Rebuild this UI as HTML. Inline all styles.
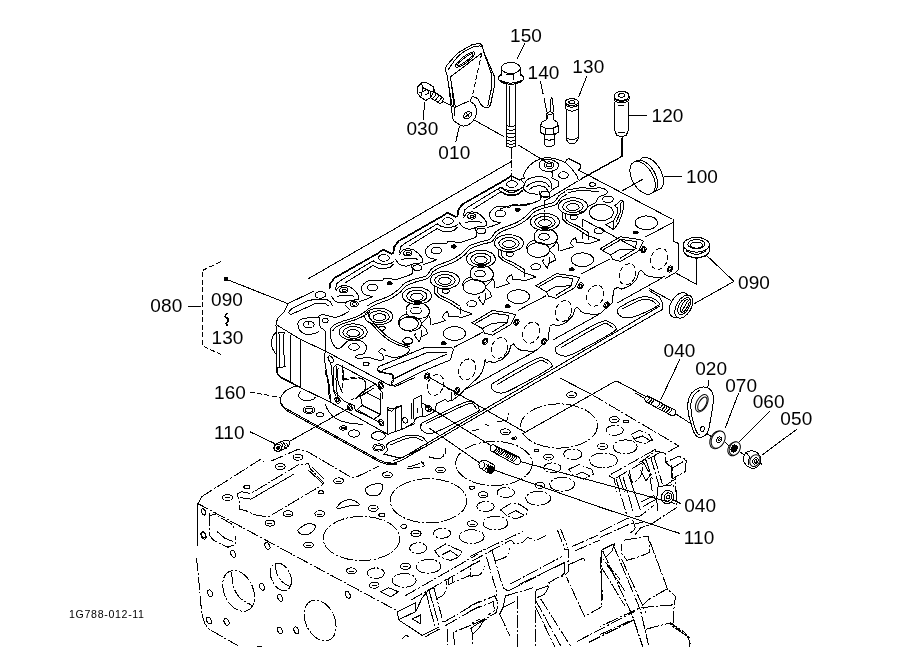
<!DOCTYPE html>
<html><head><meta charset="utf-8"><title>Cylinder head</title>
<style>
html,body{margin:0;padding:0;background:#fff}
svg{display:block;filter:grayscale(1)}
path,ellipse,circle{fill:none;stroke:#000;stroke-width:1;stroke-linecap:butt;stroke-linejoin:round;shape-rendering:crispEdges}
.t{stroke-width:1}
.ph{stroke-width:1;stroke-dasharray:13 2 2 2}
.da{stroke-width:1;stroke-dasharray:5 2.5}
.cl{stroke-width:1;stroke-dasharray:7 2 1.5 2}
.b{stroke-width:1.7}
.w{fill:#fff}
.k{fill:#000}
text{font-family:"Liberation Sans",sans-serif;fill:#000}
.lb{font-size:19px;letter-spacing:.1px}
.sm{font-size:10.6px;letter-spacing:.68px}
</style></head><body>
<svg width="919" height="667" viewBox="0 0 919 667">
<text x="510" y="42" class="lb">150</text>
<text x="527.5" y="78.5" class="lb">140</text>
<text x="572.3" y="73" class="lb">130</text>
<text x="651.5" y="122" class="lb">120</text>
<text x="686" y="182.8" class="lb">100</text>
<text x="406.4" y="135" class="lb">030</text>
<text x="438.3" y="158.5" class="lb">010</text>
<text x="738" y="289" class="lb">090</text>
<text x="150.3" y="312" class="lb">080</text>
<text x="211" y="305.5" class="lb">090</text>
<text x="211.5" y="343.6" class="lb">130</text>
<text x="214" y="398.5" class="lb">160</text>
<text x="214" y="438.6" class="lb">110</text>
<text x="663.5" y="356.5" class="lb">040</text>
<text x="695.2" y="375" class="lb">020</text>
<text x="725.2" y="392" class="lb">070</text>
<text x="752.7" y="408" class="lb">060</text>
<text x="780.3" y="424.5" class="lb">050</text>
<text x="684.2" y="512" class="lb">040</text>
<text x="683.8" y="543.5" class="lb">110</text>
<text x="69" y="618" class="sm">1G788-012-11</text>
<path d="M524.8 43.3L516.8 59.6" class="t"/>
<path d="M540.4 81.2L543.2 94.4" class="t"/>
<path d="M544 98L546.8 112.4" class="t"/>
<path d="M586.7 76.4L578.7 96.8" class="t"/>
<path d="M424.7 101.6L423.3 119.6" class="t"/>
<path d="M459.5 125.6L455.7 142.4" class="t"/>
<ellipse cx="510.8" cy="68" rx="9.4" ry="5.5"/>
<path d="M501.5 68 L501.5 75.7"/>
<path d="M520.2 68 L520.2 75.7"/>
<path d="M513.2 73.3 L513.2 80"/>
<path d="M505.6 74 L513.2 74.7"/>
<path d="M498.8 76.4 C498.8 76.9 498.1 78.4 498.8 79.5 C499.6 80.6 501.2 82.1 503.2 82.9 C505.2 83.7 508.2 84.3 510.8 84.3 C513.4 84.3 516.7 83.7 518.8 82.9 C520.8 82.1 522.6 80.6 523.3 79.5 C524.1 78.4 523.3 76.9 523.3 76.4"/>
<path d="M498.8 77.1 L502 73.3"/>
<path d="M523.3 77.1 L520 73.3"/>
<path d="M500.3 80 C501.2 80.4 503.8 81.9 505.6 82.4 C507.3 82.9 509 83.1 510.8 83.1 C512.6 83.1 514.5 82.9 516.4 82.4 C518.2 81.9 521 80.4 521.9 80" class="t"/>
<path d="M506.5 84.3L506.5 146"/>
<path d="M515.6 84.3L515.6 146"/>
<path d="M509.2 86L509.2 125.6" class="t"/>
<path d="M506.5 125.6 C507.3 125.8 509.6 126.8 511.1 126.8 C512.6 126.8 514.9 125.8 515.6 125.6" class="t"/>
<path d="M506.5 129.2 C507.3 129.4 509.6 130.4 511.1 130.4 C512.6 130.4 514.9 129.4 515.6 129.2" class="t"/>
<path d="M506.5 132.8 C507.3 133 509.6 134 511.1 134 C512.6 134 514.9 133 515.6 132.8" class="t"/>
<path d="M506.5 136.4 C507.3 136.6 509.6 137.6 511.1 137.6 C512.6 137.6 514.9 136.6 515.6 136.4" class="t"/>
<path d="M506.5 140 C507.3 140.2 509.6 141.2 511.1 141.2 C512.6 141.2 514.9 140.2 515.6 140" class="t"/>
<path d="M506.5 143.1 C507.3 143.3 509.6 144.3 511.1 144.3 C512.6 144.3 514.9 143.3 515.6 143.1" class="t"/>
<path d="M506.5 146 C507.3 146.2 509.6 147.6 511.1 147.6 C512.6 147.6 514.9 146.2 515.6 146"/>
<path d="M511.3 150.8L511.3 164" class="cl"/>
<path d="M550.4 112.4 L550.9 99.2 L551.6 97.3 L552.6 99.2 L553.6 112.4"/>
<path d="M546.4 113.1 L546.4 119.6 L542 122 L540.6 125.6 L540.6 132.3 L544 134.7 L544 144.3 L546.8 146.4 L551.6 146.4 L554.8 144.3 L554.8 134.7 L558.3 132.3 L558.3 125.6 L557.1 122 L553.6 119.6 L553.6 113.1 L550 111.7 L546.4 113.1"/>
<path d="M540.6 125.6 L545.2 128 L553.6 128 L558.3 125.6" class="t"/>
<path d="M540.6 132.3 L545.2 134.4 L553.6 134.4 L558.3 132.3" class="t"/>
<path d="M545.2 128 L545.2 134.4" class="t"/>
<path d="M553.6 128 L553.6 134.4" class="t"/>
<path d="M544 138.8 L549.2 140.4 L554.8 138.8" class="t"/>
<path d="M546.4 113.1 L550 115 L553.6 113.1" class="t"/>
<path d="M547.6 114.8 L547.6 118.8" class="t"/>
<ellipse cx="571.8" cy="102.1" rx="6.7" ry="3.4"/>
<ellipse cx="571.8" cy="102.1" rx="3.1" ry="1.4" class="t"/>
<path d="M565.1 102.1 L565.1 106.4 L566 109.3 L566 138.8 L568.4 142.8 L571.8 143.8 L575.6 142.8 L578 138.8 L578 109.3 L578.7 106.4 L578.7 102.1"/>
<path d="M566 109.3 C567 109.6 569.8 111.2 571.8 111.2 C573.8 111.2 577 109.6 578 109.3" class="t"/>
<path d="M566 137.6 C567 138 569.8 140 571.8 140 C573.8 140 577 138 578 137.6" class="t"/>
<path d="M565.1 105.2 C566.2 105.5 569.5 107.3 571.8 107.3 C574.1 107.3 577.6 105.5 578.7 105.2" class="t"/>
<path d="M445.2 69.2 L446.4 65.6 L457.8 53 L472.2 44.6 L480 43.4 L482.7 46.4 L483.2 50.6 L494.4 76.4 L494.4 86.6 L490.4 104.6"/>
<path d="M445.2 69.2 L447.2 75.8 L452.4 107"/>
<path d="M448.2 69.8 C450 67.4 454.8 59.2 459 55.4 C463.2 51.6 469.6 48.6 473.4 47 C477.2 45.4 480.4 46.2 481.8 46" class="t"/>
<path d="M450.3 77 L455.4 107" class="t"/>
<path d="M450.3 77 L481.8 53" class="t"/>
<path d="M483.6 51.8 L492 75.2 L491.6 87.8 L487.8 105.8" class="t"/>
<path d="M481.8 53 L477 74.6 L472.4 95.6" class="da"/>
<ellipse cx="465.2" cy="59.6" rx="12" ry="3.2" transform="rotate(-37 465.2 59.6)"/>
<ellipse cx="465.2" cy="59.6" rx="9.6" ry="1.7" transform="rotate(-37 465.2 59.6)" class="t"/>
<path d="M448.4 82.2 C449.1 88 451.3 110.3 452.6 117 C453.9 123.7 454.4 120.9 456.2 122.4 C458 123.9 461.2 125.7 463.4 126 C465.6 126.3 467.5 125.5 469.4 124.2 C471.3 122.9 473.6 120.4 474.8 118.2 C476 116 476.6 113.2 476.6 111 C476.6 108.8 475.8 106.6 474.8 105 C473.8 103.4 471.2 102.5 470.6 101.4 C470 100.3 470.8 99.2 471.2 98.4 C471.6 97.6 471.9 96.5 473 96.6 C474.1 96.7 476.4 97.6 477.8 99 C479.2 100.4 479.9 103.5 481.4 105 C482.9 106.5 485.3 108 486.8 108 C488.3 108 489.4 107.5 490.4 105 C491.4 102.5 492.4 95 492.8 93"/>
<path d="M451.2 82.2 L455 115.8" class="t"/>
<path d="M455 107.4 L469.4 100.8" class="t"/>
<ellipse cx="467.6" cy="115.2" rx="4.3" ry="3.2" transform="rotate(-35 467.6 115.2)"/>
<path d="M465.2 117 L470 113.1" class="t"/>
<path d="M466.4 112.8 L469.1 117.2" class="t"/>
<path d="M474.2 120L504.2 136.8" class="t"/>
<path d="M417 87.8 L421.2 83 L426 82.4 L433.2 86.6 L434.4 90.8 L430.8 97.4 L426 100.4 L420.6 97.4 L417 92.6Z"/>
<path d="M421.2 83 L423 87.8 L430.8 91.4 L434.4 90.8" class="t"/>
<path d="M423 87.8 L420.6 97.4" class="t"/>
<path d="M430.8 91.4 L430.8 97.4" class="t"/>
<path d="M423 91.4 L427.2 89.6 L429 92.6 L425.4 95" class="t"/>
<path d="M419.4 92.6 L421.8 93.2" class="t"/>
<path d="M433.2 91.4 L441 96.2 L443.6 98.6 L442.4 102.2 L439.8 103.4 L430.8 98"/>
<path d="M435 92.6 C435.2 92.9 436.3 93.4 436 94.4 C435.6 95.3 433.4 97.7 432.8 98.3" class="t"/>
<path d="M437.6 94.4 C437.8 94.7 438.9 95.2 438.6 96.2 C438.2 97.1 436 99.5 435.5 100.1" class="t"/>
<path d="M440.4 96.2 C440.5 96.5 441.7 97 441.3 98 C441 98.9 438.7 101.3 438.2 101.9" class="t"/>
<path d="M443.4 101.6L450.3 105.2" class="t"/>
<ellipse cx="621.6" cy="95.8" rx="7.4" ry="4.6"/>
<ellipse cx="621.6" cy="95.4" rx="3.1" ry="1.8" class="t"/>
<path d="M614.2 96.2 L614.2 99.2 L615.4 101.4 L614.2 103.4 L614.2 129.2 L616.8 135.4 L621.6 136.6 L626.2 135.4 L628.8 129.2 L628.8 103.4 L627.6 101.4 L629 99.2 L629 96.2"/>
<path d="M614.2 99.2 C615.4 99.6 619.1 101.4 621.6 101.4 C624.1 101.4 627.8 99.6 629 99.2" class="t"/>
<path d="M615.4 101.6 C616.4 101.8 619.5 103 621.6 103 C623.7 103 626.8 101.8 627.8 101.6" class="t"/>
<path d="M618 105.8 L624 105.8" class="t"/>
<path d="M618 132.8 L625.4 132.8" class="t"/>
<path d="M629.2 115.4L646.5 115.4"/>
<path d="M621.6 137.6 L621.6 156.4 L579.6 179.6" class="t"/>
<ellipse cx="650.8" cy="173.8" rx="18" ry="10.3" transform="rotate(60 650.8 173.8)" class="w"/>
<ellipse cx="645" cy="176.6" rx="18" ry="10.3" transform="rotate(60 645 176.6)" class="w t"/>
<ellipse cx="642.6" cy="177.9" rx="18" ry="10.3" transform="rotate(60 642.6 177.9)" class="w"/>
<path d="M664 176L681.7 176"/>
<path d="M643 179L622 191" class="t"/>
<path d="M683.6 244.8 L683.6 251.2 L687.2 256 L696.4 258.3 L705.8 256 L709.4 251.2 L709.4 244.8"/>
<path class="w" d="M683.6 244.8 L683.6 251 A13 7.4 0 0 0 709.4 251 L709.4 244.8 Z"/>
<ellipse cx="696.4" cy="244.8" rx="13" ry="7.4" class="w"/>
<ellipse cx="696.4" cy="244.2" rx="8.6" ry="4.6"/>
<ellipse cx="696.4" cy="245.2" rx="6" ry="2.9" class="t"/>
<path d="M686 250.8 C687.7 251.4 693 254.4 696.4 254.4 C699.8 254.4 704.7 251.4 706.4 250.8" class="t"/>
<path d="M696.4 258.6 L696.4 284.4 L675.8 273" class="t"/>
<path d="M707.6 256.4 L734 281.4 L694.4 303.6" class="t"/>
<ellipse cx="679" cy="305" rx="13.4" ry="8.2" transform="rotate(-60 679 305)" class="w"/>
<ellipse cx="683.8" cy="306.6" rx="12.6" ry="7.4" transform="rotate(-60 683.8 306.6)" class="w"/>
<ellipse cx="684.1" cy="306.2" rx="9.4" ry="5" transform="rotate(-60 684.1 306.2)"/>
<ellipse cx="684.6" cy="306" rx="7" ry="2.9" transform="rotate(-60 684.6 306)"/>
<path d="M680.8 313.2 L687.4 301.4" class="t"/>
<path d="M671 300.6L649 288.6" class="t"/>
<path d="M647.2 395.8 L674.8 409.8 L675.7 412.2 L674.8 415.2 L672.4 416 L646 402 L644.6 399 L645.4 396.6Z"/>
<path d="M648.4 396.2 C648.5 396.7 649.4 398 649.1 398.9 C648.8 399.8 646.9 401.2 646.5 401.6" class="t"/>
<path d="M650.6 397.3 C650.7 397.8 651.6 399.1 651.3 400 C651 400.9 649.1 402.3 648.6 402.7" class="t"/>
<path d="M652.7 398.4 C652.8 398.9 653.8 400.2 653.4 401.1 C653.1 402 651.2 403.4 650.8 403.8" class="t"/>
<path d="M659 401.6 C659.1 402.1 660 403.4 659.7 404.3 C659.4 405.2 657.5 406.6 657 407" class="t"/>
<path d="M661.4 402.8 C661.5 403.3 662.4 404.6 662.1 405.5 C661.8 406.4 659.9 407.8 659.4 408.2" class="t"/>
<path d="M663.8 404.1 C663.9 404.5 664.8 405.8 664.5 406.7 C664.2 407.6 662.3 409 661.8 409.5" class="t"/>
<path d="M666.2 405.3 C666.3 405.7 667.2 407 666.9 407.9 C666.6 408.8 664.7 410.2 664.2 410.7" class="t"/>
<path d="M668.6 406.5 C668.7 407 669.6 408.3 669.3 409.2 C669 410.1 667.1 411.5 666.6 411.9" class="t"/>
<path d="M671 407.7 C671.1 408.2 672 409.5 671.7 410.4 C671.3 411.3 669.5 412.7 669 413.1" class="t"/>
<path d="M644.6 398.4L635.2 393" class="t"/>
<path d="M675.4 413.6L689.8 423" class="t"/>
<path d="M679.9 359.3L660.4 400.4" class="t"/>
<path d="M688 402.6 C688.5 399 689.6 395.5 691.6 393 C693.6 390.5 697.4 388.5 700 387.6 C702.6 386.7 705.2 386.9 707.2 387.6 C709.2 388.3 710.9 389.9 712 391.8 C713 393.7 713.4 395.8 713.4 399 C713.4 402.2 712.8 405.8 712 411 C711.1 416.2 709.6 426.1 708.4 430.2 C707.2 434.3 706.4 434.4 704.8 435.6 C703.2 436.8 700.5 437.7 698.8 437.4 C697.1 437.1 695.8 435.8 694.6 433.8 C693.4 431.8 692.6 428.6 691.6 425.4 C690.6 422.2 689.2 418.4 688.6 414.6 C688 410.8 687.5 406.2 688 402.6Z"/>
<path d="M700 390 C699 390.8 695.5 392.6 694 394.8 C692.5 397 691.4 399.9 691 403.2 C690.6 406.5 691 410.9 691.6 414.6 C692.1 418.3 693.3 422.4 694.2 425.4 C695.1 428.4 696.1 431 697 432.6 C697.8 434.2 699 434.6 699.4 435" class="t"/>
<ellipse cx="701.8" cy="403.2" rx="9.4" ry="5.3" transform="rotate(-62 701.8 403.2)"/>
<ellipse cx="702.4" cy="403.8" rx="7.4" ry="3.6" transform="rotate(-62 702.4 403.8)" class="t"/>
<ellipse cx="702.4" cy="429" rx="2.6" ry="2" transform="rotate(-60 702.4 429)"/>
<path d="M709 379.8L707.8 387" class="t"/>
<path d="M705.7 432.8L711 436.4" class="t"/>
<ellipse cx="717" cy="439.8" rx="9.4" ry="6.6" transform="rotate(-62 717 439.8)" class="w"/>
<ellipse cx="718.2" cy="439.6" rx="9.1" ry="6.4" transform="rotate(-62 718.2 439.6)" class="w"/>
<ellipse cx="719" cy="439.8" rx="3" ry="2.2" transform="rotate(-60 719 439.8)"/>
<ellipse cx="719.2" cy="439.9" rx="1.2" ry="0.8" transform="rotate(-60 719.2 439.9)" class="t"/>
<path d="M738.7 392.9L725.2 428.2" class="t"/>
<path d="M725.4 442.2L728.8 446.2" class="t"/>
<ellipse cx="733.6" cy="448.9" rx="7.2" ry="5.4" transform="rotate(-62 733.6 448.9)" class="w"/>
<ellipse cx="734.8" cy="448.5" rx="7" ry="5.2" transform="rotate(-62 734.8 448.5)" class="w"/>
<ellipse cx="734.2" cy="448.6" rx="3.6" ry="2.9" transform="rotate(-60 734.2 448.6)" class="k"/>
<path d="M769.6 411.4L739 442" class="t"/>
<path d="M740.3 452.3L744.6 454.7" class="t"/>
<path d="M743.8 456.4 L746.2 452.2 L751.6 450.4 L757.6 452.8 L760.6 457 L760 463.6 L756.4 467.8 L751.6 468.4 L746.2 465.4 L743.4 461.2Z"/>
<ellipse cx="754.9" cy="460.6" rx="6.2" ry="4.8" transform="rotate(-62 754.9 460.6)"/>
<ellipse cx="755.4" cy="460.9" rx="3.4" ry="2.4" transform="rotate(-60 755.4 460.9)"/>
<ellipse cx="755.7" cy="461.2" rx="1.4" ry="1.1" transform="rotate(-60 755.7 461.2)" class="t"/>
<path d="M746.2 452.2 L749.2 456.4 L748.6 464.8" class="t"/>
<path d="M796.6 429.4L761.8 455.2" class="t"/>
<path d="M760 462.6L762.1 464.5" class="t"/>
<path d="M220.7 261.6 L202 270.7 L202 345.6 L221.2 354.7" class="da"/>
<path d="M188.3 306L201.3 306"/>
<circle cx="226" cy="279.1" r="1.6" class="k"/>
<path d="M226 279.1L289.5 304.3" class="t"/>
<path d="M227.6 312.7 C227.2 313.3 225.1 314.9 225.2 316.1 C225.4 317.3 228.4 318.7 228.6 319.9 C228.8 321.1 226.4 322.3 226.2 323.3 C226 324.2 227.2 325.3 227.4 325.7" class="b"/>
<path d="M314.5 290.8 L288.1 303.5 L284 311.8 L277.4 318.8 L275.9 325.4 L276.6 331.2 L276.6 372.4 L279.9 376.5 L300.5 387.2"/>
<path d="M276.6 332 C275.9 332.9 273.3 334.6 272.5 337 C271.6 339.3 271.2 343.4 271.6 346 C272.1 348.7 274.1 351.4 274.9 352.6 C275.8 353.9 276.3 353.3 276.6 353.5"/>
<path d="M278.2 334.2 L279.1 332.2 L284 332.5 L285.2 334.5"/>
<path d="M279.2 334.2L279.6 367.5"/>
<path d="M283.7 334.2L284.2 366.6"/>
<path d="M278.2 367.8 L285.7 366.5"/>
<path d="M290.6 334.8L290.6 381.8"/>
<path d="M300.5 339.8L300.5 387.2"/>
<path d="M277.4 325.4 L300.5 339.4 L325.2 351 L388.7 384.8 L393.3 385.9 L420 372.4"/>
<path d="M325.2 331.2 L325.2 351 L324.4 359.2 L327.7 379 L329.3 398.8"/>
<path d="M290.6 314.7 L288.6 312.3 L291.4 309 L307.9 300.7 L313.7 299.6 L326 299.1 L330.2 301.5 L332.6 305.7"/>
<path d="M290.6 314.7 L307.1 307.3 L313.7 304 L324.4 303.2 L328.5 305.7" class="t"/>
<ellipse cx="320.3" cy="294.9" rx="5.3" ry="3.3"/>
<path d="M324.4 331.2 C324.3 330.9 324.3 329.9 323.6 329.2 C322.9 328.5 321 328.7 320.3 327.1 C319.6 325.5 319.9 321.3 319.4 319.7 C319 318 320.5 317.3 317.8 317.2 C315.1 317.1 306.1 318.2 303 318.8 C299.8 319.5 299.7 320.2 298.8 321.3 C298 322.4 297.7 323.8 298 325.4 C298.3 327.1 299 329.7 300.5 331.2 C302 332.7 304.5 334.2 307.1 334.5 C309.7 334.8 314.1 333.5 316.2 332.9 C318.2 332.2 318.9 330.8 319.4 330.4"/>
<ellipse cx="308.7" cy="324.6" rx="5.4" ry="3.3"/>
<path d="M308.7 321.3L308.7 324.9" class="t"/>
<ellipse cx="325.2" cy="320.5" rx="3" ry="2"/>
<path d="M317.8 317.2 C318.6 316.8 319.7 314.7 322.7 314.7 C325.8 314.7 331.8 317.6 335.9 317.2 C340.1 316.8 345.3 313.6 347.5 312.3 C349.7 310.9 349.5 310.2 349.1 309 C348.7 307.7 345.4 306.1 345 304.8 C344.6 303.6 346.4 302.1 346.6 301.5"/>
<ellipse cx="353.2" cy="332" rx="14" ry="8.2"/>
<ellipse cx="353.2" cy="332.5" rx="10.2" ry="5.9" class="t"/>
<ellipse cx="353.2" cy="333.2" rx="6.3" ry="3.6"/>
<path d="M368.9 308.1 C368.3 308.7 367.8 309.9 365.6 311.4 C363.4 312.9 359.6 315.5 355.7 317.2 C351.9 318.8 346.2 319.9 342.5 321.3 C338.8 322.7 335.5 323.9 333.5 325.4 C331.4 326.9 330.6 328 330.2 330.4 C329.7 332.7 330.2 336.7 331 339.4 C331.8 342.2 333.7 345.4 335.1 346.9 C336.5 348.4 337.9 348.8 339.2 348.5 C340.6 348.2 342 346.5 343.3 345.2 C344.7 344 345.8 342.1 347.5 341.1 C349.1 340.1 352.3 339.7 353.2 339.4"/>
<path d="M370.5 310.6 C370 311.2 369.6 312.4 367.2 313.9 C364.9 315.4 360.5 317.7 356.5 319.3 C352.6 320.9 346.8 322.2 343.3 323.5 C339.9 324.8 337.7 325.8 335.9 327.1 C334.1 328.4 333.2 330.5 332.6 331.2" class="t"/>
<ellipse cx="354.1" cy="346.9" rx="5.3" ry="3.3"/>
<path d="M347.5 341.1 C349.4 341 356.1 339.9 359 340.3 C361.9 340.7 363.5 342.2 364.8 343.6 C366 344.9 366.6 346.9 366.4 348.5 C366.3 350.2 365.5 352.4 364 353.5 C362.4 354.6 358.7 354.4 357.4 355.1 C356 355.8 355.3 357 355.7 357.6 C356.1 358.1 357.6 358.4 359.8 358.4 C362 358.4 365.9 357.3 368.9 357.6 C371.9 357.9 375.5 359.8 378 360.1 C380.4 360.3 383 360.2 383.7 359.2 C384.4 358.3 382.9 355.5 382.1 354.3 C381.3 353 378.8 352.8 378.8 351.8 C378.8 350.8 381 348.7 382.1 348.5 C383.2 348.4 384.8 350.6 385.4 351"/>
<ellipse cx="378.8" cy="316.4" rx="14" ry="8.2"/>
<ellipse cx="379.1" cy="316.7" rx="10.2" ry="5.9" class="t"/>
<ellipse cx="379.6" cy="317.2" rx="6.3" ry="3.6"/>
<ellipse cx="354.1" cy="304" rx="4.1" ry="2.5"/>
<ellipse cx="354.1" cy="304" rx="2.3" ry="1.3" class="t"/>
<ellipse cx="382.1" cy="328.2" rx="3.3" ry="2"/>
<ellipse cx="407.6" cy="341.1" rx="4.9" ry="3.3"/>
<ellipse cx="366.1" cy="363.8" rx="3" ry="1.8"/>
<ellipse cx="408.5" cy="323.8" rx="9.9" ry="6.6"/>
<path d="M377.1 369.1 L378.8 366.6 L424.8 347.5 L451.1 347.5 L453.6 349.2 L450.3 359.9 L420 372.4"/>
<path d="M377.1 369.1 L379.6 372.4 L392.8 374.1 L393.6 379 L391.1 382.3 L393.3 385.9"/>
<path d="M382.1 370.3 L418.3 356.3 L427.9 352 L447.2 352" class="t"/>
<path d="M393.6 379 L420 365.8 L447.2 354" class="t"/>
<path d="M369.7 322.1 C372.3 324.8 380.8 334.1 385.4 337.8 C389.9 341.5 393.1 342.6 396.9 344.4 C400.8 346.2 406.8 347 408.5 348.5 C410.1 350 409 351.9 406.8 353.5 C404.6 355 398.8 357.3 395.3 357.6 C391.7 357.9 387 355.5 385.4 355.1"/>
<path d="M367.2 311.4 C368.1 313.1 368.9 317.2 372.2 321.3 C375.5 325.4 382.6 332.6 387 336.2 C391.4 339.7 394.7 341 398.6 342.7 C402.4 344.5 408.2 346.2 410.1 346.9" class="t"/>
<ellipse cx="330.7" cy="359.2" rx="3.6" ry="2.1" transform="rotate(60 330.7 359.2)"/>
<ellipse cx="380.8" cy="385.3" rx="3.6" ry="2.1" transform="rotate(60 380.8 385.3)"/>
<path d="M335.9 395.5 L333.5 390.5 L333.5 367.5 L336.8 364.2 L339.2 365 L375.5 384 L382.1 392.2 L382.1 398.8"/>
<path d="M337.6 398.8 L335.9 379 L338.4 367.5" class="t"/>
<path d="M342.5 367.5 L342.5 388.9" class="da"/>
<path d="M342.5 379 C344.7 378.7 352.1 377.2 355.7 377.4 C359.3 377.5 362.3 378.2 364 379.8 C365.6 381.5 365.9 384.6 365.6 387.2 C365.3 389.9 362.9 394.1 362.3 395.5" class="da"/>
<path d="M375.5 384 L362.3 392.2 L355.7 398.8" class="t"/>
<defs><clipPath id="topc"><path d="M262 314 L392 404 L700 226 L556 136 Z"/></clipPath></defs>
<g clip-path="url(#topc)">
<path d="M329.5 289.5 L330.3 283.7 L334.5 278 L378.1 253.2 L383.1 249.6 L391.3 253.7 L393.8 252.9" class="b"/>
<ellipse cx="383.9" cy="257.9" rx="5.3" ry="3.3"/>
<path d="M335.3 289.7 L336.9 283.6 L340.1 280.8 L373.2 260.8 L377.6 263.6 L384.7 264.4 L390.8 263.6 L394.4 260.8"/>
<path d="M344.8 283.1 L373.2 265.4 L378.5 268.1 L384.7 268.4 L390 267.6 L393.6 264"/>
<ellipse cx="407.8" cy="253.2" rx="4.1" ry="2.8"/>
<ellipse cx="408.1" cy="253.6" rx="2" ry="1.3" class="t"/>
<path d="M399.6 254.6 C400.2 253.7 401.5 250.4 403.7 249.6 C405.9 248.8 410.1 248.8 412.7 249.6 C415.4 250.4 417.7 252.9 419.3 254.6 C421 256.2 422.1 258.1 422.6 259.5 C423.2 260.9 422.6 262.3 422.6 262.8"/>
<path d="M395.4 259.5 C396.1 260.3 397.8 263.3 399.6 264.4 C401.3 265.5 403.7 266.2 406.2 266.1 C408.6 266 411.6 264.2 414.4 263.6 C417.1 263.1 421.3 262.9 422.6 262.8"/>
<path d="M401.2 259.5 C402.6 259.3 406.7 258.2 409.4 258.2 C412.2 258.1 416.3 259 417.7 259.2" class="t"/>
<ellipse cx="417.4" cy="267.7" rx="4.6" ry="2.8"/>
<path d="M411.1 265.3 C411.4 266.2 412.7 269.5 412.7 271 C412.7 272.6 413.3 273.1 411.1 274.3 C408.9 275.6 402.2 277.6 399.6 278.5 C396.9 279.3 397.9 279.3 395.4 279.3 C393 279.3 387.1 278.2 384.7 278.5 C382.4 278.7 383.9 280.7 381.4 280.9 C379 281.2 372.9 279.6 369.9 280.1 C366.9 280.7 364.7 282.7 363.3 284.2 C361.9 285.7 361.5 287.5 361.6 289.2 C361.8 290.8 362.9 293 364.1 294.1 C365.4 295.2 367.7 295.4 369.1 295.8 C370.4 296.2 372.8 296 372.4 296.6 C371.9 297.1 368.8 298.2 366.6 299.1 C364.4 299.9 360.4 301.1 359.2 301.5"/>
<ellipse cx="372.4" cy="287.5" rx="5.3" ry="3.3"/>
<ellipse cx="389.7" cy="283.4" rx="2.4" ry="1.6" class="k"/>
<path d="M366.9 306.3 C368 305.6 369.9 303.8 373.5 302.2 C377.1 300.5 384.2 298.5 388.4 296.4 C392.5 294.4 395.5 292 398.2 289.8 C400.9 287.7 401.8 285.2 404.5 283.4 C407.2 281.6 410.8 280.5 414.4 279.3 C418 278 423.2 277.6 425.9 276 C428.7 274.3 430.1 270.5 430.9 269.4"/>
<path d="M368.7 308.8 C369.8 308.1 371.8 306.3 375.3 304.7 C378.9 303 386 301 390.2 298.9 C394.3 296.8 397.4 294.5 400.1 292.3 C402.7 290.1 403.6 287.6 406.3 285.9 C409 284.1 412.6 283 416.2 281.8 C419.8 280.5 425 280.1 427.7 278.5 C430.5 276.8 431.9 273 432.7 271.9" class="t"/>
<ellipse cx="444.9" cy="280.1" rx="14.5" ry="8.6"/>
<ellipse cx="444.9" cy="280.4" rx="10.2" ry="5.9" class="t"/>
<ellipse cx="444.9" cy="280.9" rx="6.3" ry="3.6"/>
<ellipse cx="416.9" cy="295.8" rx="14.5" ry="8.6"/>
<ellipse cx="416.9" cy="296.1" rx="10.2" ry="5.9" class="t"/>
<ellipse cx="416.9" cy="296.8" rx="6.3" ry="3.6"/>
<ellipse cx="416.9" cy="302" rx="3" ry="1.5" class="k"/>
<ellipse cx="416" cy="310.6" rx="5.3" ry="3.3"/>
<path d="M409.4 304 C408.9 304.7 406.6 306.5 406.2 308.1 C405.7 309.8 406.2 312.4 407 313.9 C407.8 315.4 408.5 316.5 411.1 317.2 C413.7 317.9 419.7 318.4 422.6 318 C425.5 317.6 427.3 316.2 428.4 314.7 C429.5 313.2 429.6 310.6 429.2 309 C428.8 307.3 427.3 305.8 425.9 304.8 C424.6 303.9 421.8 303.5 421 303.2"/>
<path d="M407 313.9 C406.2 314.2 403.4 314.8 402 315.9 C400.7 317 399.1 319 398.7 320.5 C398.3 321.9 399.4 323.9 399.6 324.6"/>
<path d="M428.4 314.7 C428.8 315.7 430.6 318.8 430.9 320.5 C431.1 322.1 430.2 323.9 430.1 324.6"/>
<ellipse cx="410.3" cy="323.8" rx="11.2" ry="7.4"/>
<ellipse cx="445.7" cy="291.1" rx="3.6" ry="2.1"/>
<ellipse cx="407.8" cy="340.6" rx="4.9" ry="3"/>
<path d="M435 285.9 L434.2 292.5 L439.1 297.4 L449 302.4 L458.9 309 L465.5 311.4 L472.1 313.9 L462.2 317.2 L449 316.4 L447.4 311.4 L444.1 313.9 L442.4 317.2 L445.7 320.5 L432.5 324.6"/>
<path d="M437.5 287.5 C437.5 288.3 436.8 291 437.5 292.5 C438.2 293.9 439.4 294.8 441.6 296.1 C443.8 297.4 447.5 298.6 450.7 300.4 C453.8 302.1 458.9 305.5 460.5 306.5" class="t"/>
<path d="M460.5 306.5 L460.5 313.9" class="t"/>
<path d="M421 323.8 C422.1 322.7 426.2 319.5 427.6 317.2 C429 314.9 429.8 312 429.2 309.8 C428.7 307.6 426.2 305.3 424.3 304 C422.4 302.7 418.8 302.4 417.7 302" class="t"/>
<path d="M421 323.8 L425.9 328.7 L427.6 333.7 L421 337 L419.3 341.9 L414.4 335.3 L416 332.9"/>
<path d="M421 337 L421.8 330.4" class="t"/>
<path d="M393.5 252.6 L394.3 246.8 L398.5 241.1 L442.1 216.3 L447.1 212.7 L455.3 216.8 L457.8 216" class="b"/>
<ellipse cx="447.9" cy="221" rx="5.3" ry="3.3"/>
<path d="M399.3 252.8 L400.9 246.7 L404.1 243.9 L437.2 223.9 L441.6 226.7 L448.7 227.5 L454.8 226.7 L458.4 223.9"/>
<path d="M408.8 246.2 L437.2 228.5 L442.5 231.2 L448.7 231.5 L454 230.7 L457.6 227.1"/>
<ellipse cx="471.8" cy="216.3" rx="4.1" ry="2.8"/>
<ellipse cx="472.1" cy="216.7" rx="2" ry="1.3" class="t"/>
<path d="M463.6 217.7 C464.2 216.8 465.5 213.5 467.7 212.7 C469.9 211.9 474.1 211.9 476.7 212.7 C479.4 213.5 481.7 216 483.3 217.7 C485 219.3 486.1 221.2 486.6 222.6 C487.2 224 486.6 225.4 486.6 225.9"/>
<path d="M459.4 222.6 C460.1 223.4 461.8 226.4 463.6 227.5 C465.3 228.6 467.7 229.3 470.2 229.2 C472.6 229.1 475.6 227.3 478.4 226.7 C481.1 226.2 485.3 226 486.6 225.9"/>
<path d="M465.2 222.6 C466.6 222.4 470.7 221.3 473.4 221.3 C476.2 221.2 480.3 222.1 481.7 222.3" class="t"/>
<ellipse cx="481.4" cy="230.8" rx="4.6" ry="2.8"/>
<path d="M475.1 228.4 C475.4 229.3 476.7 232.6 476.7 234.1 C476.7 235.7 477.3 236.2 475.1 237.4 C472.9 238.7 466.2 240.7 463.6 241.6 C460.9 242.4 461.9 242.4 459.4 242.4 C457 242.4 451.1 241.3 448.7 241.6 C446.4 241.8 447.9 243.8 445.4 244 C443 244.3 436.9 242.7 433.9 243.2 C430.9 243.8 428.7 245.8 427.3 247.3 C425.9 248.8 425.5 250.6 425.6 252.3 C425.8 253.9 426.9 256.1 428.1 257.2 C429.4 258.3 431.7 258.5 433.1 258.9 C434.4 259.3 436.8 259.1 436.4 259.7 C435.9 260.2 432.8 261.3 430.6 262.2 C428.4 263 424.4 264.2 423.2 264.6"/>
<ellipse cx="436.4" cy="250.6" rx="5.3" ry="3.3"/>
<ellipse cx="453.7" cy="246.5" rx="2.4" ry="1.6" class="k"/>
<path d="M430.9 269.4 C432 268.7 433.9 266.9 437.5 265.3 C441.1 263.6 448.2 261.6 452.4 259.5 C456.5 257.5 459.5 255.1 462.2 252.9 C464.9 250.8 465.8 248.3 468.5 246.5 C471.2 244.7 474.8 243.6 478.4 242.4 C482 241.1 487.2 240.7 489.9 239.1 C492.7 237.4 494.1 233.6 494.9 232.5"/>
<path d="M432.7 271.9 C433.8 271.2 435.8 269.4 439.3 267.8 C442.9 266.1 450 264.1 454.2 262 C458.3 259.9 461.4 257.6 464.1 255.4 C466.7 253.2 467.6 250.7 470.3 249 C473 247.2 476.6 246.1 480.2 244.9 C483.8 243.6 489 243.2 491.7 241.6 C494.5 239.9 495.9 236.1 496.7 235" class="t"/>
<ellipse cx="508.9" cy="243.2" rx="14.5" ry="8.6"/>
<ellipse cx="508.9" cy="243.5" rx="10.2" ry="5.9" class="t"/>
<ellipse cx="508.9" cy="244" rx="6.3" ry="3.6"/>
<ellipse cx="480.9" cy="258.9" rx="14.5" ry="8.6"/>
<ellipse cx="480.9" cy="259.2" rx="10.2" ry="5.9" class="t"/>
<ellipse cx="480.9" cy="259.9" rx="6.3" ry="3.6"/>
<ellipse cx="480.9" cy="265.1" rx="3" ry="1.5" class="k"/>
<ellipse cx="480" cy="273.7" rx="5.3" ry="3.3"/>
<path d="M473.4 267.1 C472.9 267.8 470.6 269.6 470.2 271.2 C469.7 272.9 470.2 275.5 471 277 C471.8 278.5 472.5 279.6 475.1 280.3 C477.7 281 483.7 281.5 486.6 281.1 C489.5 280.7 491.3 279.3 492.4 277.8 C493.5 276.3 493.6 273.7 493.2 272.1 C492.8 270.4 491.3 268.9 489.9 267.9 C488.6 267 485.8 266.6 485 266.3"/>
<path d="M471 277 C470.2 277.3 467.4 277.9 466 279 C464.7 280.1 463.1 282.1 462.7 283.6 C462.3 285 463.4 287 463.6 287.7"/>
<path d="M492.4 277.8 C492.8 278.8 494.6 281.9 494.9 283.6 C495.1 285.2 494.2 287 494.1 287.7"/>
<ellipse cx="474.3" cy="286.9" rx="11.2" ry="7.4"/>
<ellipse cx="509.7" cy="254.2" rx="3.6" ry="2.1"/>
<ellipse cx="471.8" cy="303.7" rx="4.9" ry="3"/>
<path d="M499 249 L498.2 255.6 L503.1 260.5 L513 265.5 L522.9 272.1 L529.5 274.5 L536.1 277 L526.2 280.3 L513 279.5 L511.4 274.5 L508.1 277 L506.4 280.3 L509.7 283.6 L496.5 287.7"/>
<path d="M501.5 250.6 C501.5 251.4 500.8 254.1 501.5 255.6 C502.2 257 503.4 257.9 505.6 259.2 C507.8 260.5 511.5 261.7 514.7 263.5 C517.8 265.2 522.9 268.6 524.5 269.6" class="t"/>
<path d="M524.5 269.6 L524.5 277" class="t"/>
<path d="M485 286.9 C486.1 285.8 490.2 282.6 491.6 280.3 C493 278 493.8 275.1 493.2 272.9 C492.7 270.7 490.2 268.4 488.3 267.1 C486.4 265.8 482.8 265.5 481.7 265.1" class="t"/>
<path d="M485 286.9 L489.9 291.8 L491.6 296.8 L485 300.1 L483.3 305 L478.4 298.4 L480 296"/>
<path d="M485 300.1 L485.8 293.5" class="t"/>
<path d="M457.5 215.7 L458.3 209.9 L462.5 204.2 L506.1 179.4 L511.1 175.8 L519.3 179.9 L521.8 179.1" class="b"/>
<ellipse cx="511.9" cy="184.1" rx="5.3" ry="3.3"/>
<path d="M463.3 215.9 L464.9 209.8 L468.1 207 L501.2 187 L505.6 189.8 L512.7 190.6 L518.8 189.8 L522.4 187"/>
<path d="M472.8 209.3 L501.2 191.6 L506.5 194.3 L512.7 194.6 L518 193.8 L521.6 190.2"/>
<ellipse cx="545.4" cy="193.9" rx="4.6" ry="2.8"/>
<path d="M539.1 191.5 C539.4 192.4 540.7 195.7 540.7 197.2 C540.7 198.8 541.3 199.3 539.1 200.5 C536.9 201.8 530.2 203.8 527.6 204.7 C524.9 205.5 525.9 205.5 523.4 205.5 C521 205.5 515.1 204.4 512.7 204.7 C510.4 204.9 511.9 206.9 509.4 207.1 C507 207.4 500.9 205.8 497.9 206.3 C494.9 206.9 492.7 208.9 491.3 210.4 C489.9 211.9 489.5 213.7 489.6 215.4 C489.8 217 490.9 219.2 492.1 220.3 C493.4 221.4 495.7 221.6 497.1 222 C498.4 222.4 500.8 222.2 500.4 222.8 C499.9 223.3 496.8 224.4 494.6 225.3 C492.4 226.1 488.4 227.3 487.2 227.7"/>
<ellipse cx="500.4" cy="213.7" rx="5.3" ry="3.3"/>
<ellipse cx="517.7" cy="209.6" rx="2.4" ry="1.6" class="k"/>
<path d="M494.9 232.5 C496 231.8 497.9 230 501.5 228.4 C505.1 226.7 512.2 224.7 516.4 222.6 C520.5 220.6 523.5 218.2 526.2 216 C528.9 213.9 529.8 211.4 532.5 209.6 C535.2 207.8 538.8 206.7 542.4 205.5 C546 204.2 551.2 203.8 553.9 202.2 C556.7 200.5 557 197.4 558.9 195.6 C560.8 193.8 564.4 192.2 565.5 191.5"/>
<path d="M496.7 235 C497.8 234.3 499.8 232.5 503.3 230.9 C506.9 229.2 514 227.2 518.2 225.1 C522.3 223 525.4 220.7 528.1 218.5 C530.7 216.3 531.6 213.8 534.3 212.1 C537 210.3 540.6 209.2 544.2 208 C547.8 206.7 553 206.3 555.7 204.7 C558.5 203 558.8 199.9 560.7 198.1 C562.6 196.3 566.2 194.6 567.3 193.9" class="t"/>
<ellipse cx="572.9" cy="206.3" rx="14.5" ry="8.6"/>
<ellipse cx="572.9" cy="206.6" rx="10.2" ry="5.9" class="t"/>
<ellipse cx="572.9" cy="207.1" rx="6.3" ry="3.6"/>
<ellipse cx="544.9" cy="222" rx="14.5" ry="8.6"/>
<ellipse cx="544.9" cy="222.3" rx="10.2" ry="5.9" class="t"/>
<ellipse cx="544.9" cy="223" rx="6.3" ry="3.6"/>
<ellipse cx="544.9" cy="228.2" rx="3" ry="1.5" class="k"/>
<ellipse cx="544" cy="236.8" rx="5.3" ry="3.3"/>
<path d="M537.4 230.2 C536.9 230.9 534.6 232.7 534.2 234.3 C533.7 236 534.2 238.6 535 240.1 C535.8 241.6 536.5 242.7 539.1 243.4 C541.7 244.1 547.7 244.6 550.6 244.2 C553.5 243.8 555.3 242.4 556.4 240.9 C557.5 239.4 557.6 236.8 557.2 235.2 C556.8 233.5 555.3 232 553.9 231 C552.6 230.1 549.8 229.7 549 229.4"/>
<path d="M535 240.1 C534.2 240.4 531.4 241 530 242.1 C528.7 243.2 527.1 245.2 526.7 246.7 C526.3 248.1 527.4 250.1 527.6 250.8"/>
<path d="M556.4 240.9 C556.8 241.9 558.6 245 558.9 246.7 C559.1 248.3 558.2 250.1 558.1 250.8"/>
<ellipse cx="538.3" cy="250" rx="11.2" ry="7.4"/>
<ellipse cx="573.7" cy="217.3" rx="3.6" ry="2.1"/>
<ellipse cx="535.8" cy="266.8" rx="4.9" ry="3"/>
<path d="M563 212.1 L562.2 218.7 L567.1 223.6 L577 228.6 L586.9 235.2 L593.5 237.6 L600.1 240.1 L590.2 243.4 L577 242.6 L575.4 237.6 L572.1 240.1 L570.4 243.4 L573.7 246.7 L560.5 250.8"/>
<path d="M565.5 213.7 C565.5 214.5 564.8 217.2 565.5 218.7 C566.2 220.1 567.4 221 569.6 222.3 C571.8 223.6 575.5 224.8 578.7 226.6 C581.8 228.3 586.9 231.7 588.5 232.7" class="t"/>
<path d="M588.5 232.7 L588.5 240.1" class="t"/>
<path d="M549 250 C550.1 248.9 554.2 245.7 555.6 243.4 C557 241.1 557.8 238.2 557.2 236 C556.7 233.8 554.2 231.5 552.3 230.2 C550.4 228.9 546.8 228.6 545.7 228.2" class="t"/>
<path d="M549 250 L553.9 254.9 L555.6 259.9 L549 263.2 L547.3 268.1 L542.4 261.5 L544 259.1"/>
<path d="M549 263.2 L549.8 256.6" class="t"/>
<ellipse cx="454.4" cy="333.5" rx="11.2" ry="6.9"/>
<ellipse cx="443.7" cy="343.2" rx="2.4" ry="1.5" class="k"/>
<path d="M453.6 347.5 L482.5 332.4"/>
<ellipse cx="518.4" cy="296.6" rx="11.2" ry="6.9"/>
<ellipse cx="507.7" cy="306.3" rx="2.4" ry="1.5" class="k"/>
<path d="M471.8 322.8 L492.4 310.5 L511.4 313.3 L515.5 314.9 L510.9 324.5 L492.4 335.2 L484.5 333 L482.5 328.6Z"/>
<path d="M475.1 323.6 L493.2 313.3 L508.9 315.4 L507.2 322.8 L491.6 332.4" class="t"/>
<path d="M482.5 328.6 L492.4 323.1 L507.2 322.8" class="t"/>
<path d="M517.6 310.6 L546.5 295.5"/>
<ellipse cx="582.4" cy="259.7" rx="11.2" ry="6.9"/>
<ellipse cx="571.7" cy="269.4" rx="2.4" ry="1.5" class="k"/>
<path d="M535.8 285.9 L556.4 273.6 L575.4 276.4 L579.5 278 L574.9 287.6 L556.4 298.3 L548.5 296.1 L546.5 291.7Z"/>
<path d="M539.1 286.7 L557.2 276.4 L572.9 278.5 L571.2 285.9 L555.6 295.5" class="t"/>
<path d="M546.5 291.7 L556.4 286.2 L571.2 285.9" class="t"/>
<path d="M581.6 273.7 L610.5 258.6"/>
<ellipse cx="646.4" cy="222.8" rx="11.2" ry="6.9"/>
<ellipse cx="635.7" cy="232.5" rx="2.4" ry="1.5" class="k"/>
<path d="M599.8 249 L620.4 236.7 L639.4 239.5 L643.5 241.1 L638.9 250.7 L620.4 261.4 L612.5 259.2 L610.5 254.8Z"/>
<path d="M603.1 249.8 L621.2 239.5 L636.9 241.6 L635.2 249 L619.6 258.6" class="t"/>
<path d="M610.5 254.8 L620.4 249.3 L635.2 249" class="t"/>
<path d="M645.6 236.8 L674.5 221.7"/>
<ellipse cx="343.8" cy="290.1" rx="4.1" ry="2.8"/>
<ellipse cx="344.1" cy="290.5" rx="2" ry="1.3" class="t"/>
<path d="M335.6 291.5 C336.2 290.6 337.5 287.3 339.7 286.5 C341.9 285.7 346.1 285.7 348.7 286.5 C351.4 287.3 353.7 289.8 355.3 291.5 C357 293.1 358.1 295 358.6 296.4 C359.2 297.8 358.6 299.2 358.6 299.7"/>
<path d="M331.4 296.4 C332.1 297.2 333.8 300.2 335.6 301.3 C337.3 302.4 339.7 303.1 342.2 303 C344.6 302.9 347.6 301.1 350.4 300.5 C353.1 300 357.3 299.8 358.6 299.7"/>
<path d="M337.2 296.4 C338.6 296.2 342.7 295.1 345.4 295.1 C348.2 295 352.3 295.9 353.7 296.1" class="t"/>
</g>
<ellipse cx="435.5" cy="385" rx="7.9" ry="10.9" transform="rotate(22 435.5 385)" class="da"/>
<ellipse cx="467.3" cy="369.5" rx="8.2" ry="10.9" transform="rotate(22 467.3 369.5)" class="da"/>
<ellipse cx="499.5" cy="348.1" rx="7.9" ry="10.9" transform="rotate(22 499.5 348.1)" class="da"/>
<path d="M486.3 362.9 L489.6 361.3 L493.7 362.9 L501.9 359.6 L508.5 353.1 L511 345.6 L513.5 344 L516.8 348.1 L521.7 350.6 L533.2 351.4 L536.5 350.1 L548.1 339.9 L549.7 326.7"/>
<path d="M488.7 377L534.9 351.4"/>
<ellipse cx="531.3" cy="332.6" rx="8.2" ry="10.9" transform="rotate(22 531.3 332.6)" class="da"/>
<ellipse cx="563.5" cy="311.2" rx="7.9" ry="10.9" transform="rotate(22 563.5 311.2)" class="da"/>
<path d="M550.3 326 L553.6 324.4 L557.7 326 L565.9 322.7 L572.5 316.2 L575 308.7 L577.5 307.1 L580.8 311.2 L585.7 313.7 L597.2 314.5 L600.5 313.2 L612.1 303 L613.7 289.8"/>
<path d="M552.7 340.1L598.9 314.5"/>
<ellipse cx="595.3" cy="295.7" rx="8.2" ry="10.9" transform="rotate(22 595.3 295.7)" class="da"/>
<ellipse cx="627.5" cy="274.3" rx="7.9" ry="10.9" transform="rotate(22 627.5 274.3)" class="da"/>
<path d="M616.7 303.2L662.9 277.6"/>
<ellipse cx="659.3" cy="258.8" rx="8.2" ry="10.9" transform="rotate(22 659.3 258.8)" class="da"/>
<ellipse cx="427" cy="376" rx="2.3" ry="3.2" transform="rotate(30 427 376)"/>
<ellipse cx="427" cy="376" rx="1.2" ry="1.9" transform="rotate(30 427 376)" class="t"/>
<ellipse cx="485.2" cy="341.3" rx="2.3" ry="3.2" transform="rotate(30 485.2 341.3)"/>
<ellipse cx="485.2" cy="341.3" rx="1.2" ry="1.9" transform="rotate(30 485.2 341.3)" class="t"/>
<ellipse cx="516.5" cy="322.4" rx="2.3" ry="3.2" transform="rotate(30 516.5 322.4)"/>
<ellipse cx="516.5" cy="322.4" rx="1.2" ry="1.9" transform="rotate(30 516.5 322.4)" class="t"/>
<ellipse cx="580.5" cy="285.8" rx="2.3" ry="3.2" transform="rotate(30 580.5 285.8)"/>
<ellipse cx="580.5" cy="285.8" rx="1.2" ry="1.9" transform="rotate(30 580.5 285.8)" class="t"/>
<ellipse cx="643.5" cy="249.6" rx="2.3" ry="3.2" transform="rotate(30 643.5 249.6)"/>
<ellipse cx="643.5" cy="249.6" rx="1.2" ry="1.9" transform="rotate(30 643.5 249.6)" class="t"/>
<ellipse cx="457.3" cy="390.6" rx="2.3" ry="3.2" transform="rotate(30 457.3 390.6)"/>
<ellipse cx="457.3" cy="390.6" rx="1.2" ry="1.9" transform="rotate(30 457.3 390.6)" class="t"/>
<ellipse cx="543.7" cy="341.5" rx="2.3" ry="3.2" transform="rotate(30 543.7 341.5)"/>
<ellipse cx="543.7" cy="341.5" rx="1.2" ry="1.9" transform="rotate(30 543.7 341.5)" class="t"/>
<ellipse cx="606.5" cy="305" rx="2.3" ry="3.2" transform="rotate(30 606.5 305)"/>
<ellipse cx="606.5" cy="305" rx="1.2" ry="1.9" transform="rotate(30 606.5 305)" class="t"/>
<ellipse cx="670" cy="269" rx="2.3" ry="3.2" transform="rotate(30 670 269)"/>
<ellipse cx="670" cy="269" rx="1.2" ry="1.9" transform="rotate(30 670 269)" class="t"/>
<path d="M614.3 289.1 L617.6 287.5 L621.7 289.1 L629.9 285.8 L636.5 279.3 L639 271.8 L641.5 270.2 L644.8 274.3 L649.7 276.8 L661.2 277.6 L664.5 276.3"/>
<path d="M673.1 219 L673.5 241.5 L678.1 243.2 L678.6 269.2 L675.6 272.5 L664.9 278.8"/>
<path d="M492 386 C492.5 384.6 488.2 386.3 495.3 381.9 C502.5 377.5 526.7 363.5 534.9 359.6 C543.1 355.8 542 358.1 544.8 358.8 C547.5 359.5 550.8 362 551.4 363.8 C551.9 365.6 555.2 365 548.1 369.5 C540.9 374.1 516.8 387.1 508.5 391 C500.3 394.8 501.2 392.7 498.6 392.6 C496 392.5 494 391.2 492.9 390.1 C491.8 389 491.6 387.4 492 386Z"/>
<path d="M497.3 384.4 C503.9 380.7 528.7 365.9 536.5 362.1 C544.4 358.3 542.5 361.2 544.5 361.6 C546.4 362 547.8 364.1 548.4 364.6" class="t"/>
<path d="M556 349.1 C556.5 347.7 552.2 349.4 559.3 345 C566.5 340.6 590.7 326.6 598.9 322.7 C607.1 318.9 606 321.2 608.8 321.9 C611.5 322.6 614.8 325.1 615.4 326.9 C615.9 328.7 619.2 328.1 612.1 332.6 C604.9 337.2 580.8 350.2 572.5 354.1 C564.3 357.9 565.2 355.8 562.6 355.7 C560 355.6 558 354.3 556.9 353.2 C555.8 352.1 555.6 350.5 556 349.1Z"/>
<path d="M561.3 347.5 C567.9 343.8 592.7 329 600.5 325.2 C608.4 321.4 606.5 324.3 608.5 324.7 C610.4 325.1 611.8 327.2 612.4 327.7" class="t"/>
<path d="M511.2 148.2L511.2 181.2" class="cl"/>
<path d="M501.6 188.1 C502.5 188.7 504.9 190.7 506.6 191.4 C508.2 192.1 509.9 192.4 511.5 192.4 C513.2 192.4 514.8 192.1 516.5 191.4 C518.1 190.7 520.6 188.7 521.4 188.1" class="t"/>
<path d="M498.4 189.4 C499.5 190.3 502.7 193.3 504.9 194.4 C507.1 195.4 509.3 195.7 511.5 195.7 C513.7 195.7 516.2 195.3 518.1 194.4 C520.1 193.5 522.3 191 523.1 190.3" class="t"/>
<path d="M518.1 144.9L547.8 163.1" class="t"/>
<path d="M308 278.9L511.2 161.6" class="t"/>
<path d="M524.7 178.7 C524.6 178 523.2 176.7 523.9 174.6 C524.6 172.6 526.8 168.7 528.8 166.4 C530.9 164 533.5 162 536.3 160.6 C539 159.2 542 158.1 545.3 157.8 C548.6 157.5 552.6 158.1 556 159 C559.5 159.8 563.5 161.6 565.9 163.1 C568.4 164.6 569.1 166 570.9 168 C572.7 170.1 575.4 173.4 576.6 175.4 C577.9 177.5 578 179.6 578.3 180.4"/>
<path d="M565.9 160.6 L568.4 158.5 L580.8 164.7 L580.8 168 L578.3 170"/>
<path d="M565.9 160.6L565.9 163.1"/>
<ellipse cx="549.1" cy="165.2" rx="4.9" ry="3.3"/>
<ellipse cx="549.1" cy="165.2" rx="2.8" ry="1.8" class="t"/>
<path d="M539.6 164.7 C539.7 163.4 539.6 161.5 541.2 160.6 C542.9 159.7 546.8 159.2 549.4 159.4 C552.1 159.7 555.4 161.1 556.9 162.3 C558.4 163.4 558.9 165 558.5 166.4 C558.1 167.7 556.5 169.7 554.4 170.5 C552.3 171.3 548.5 171.6 546.2 171.3 C543.8 171 541.5 169.9 540.4 168.8 C539.3 167.7 539.4 166.1 539.6 164.7Z"/>
<ellipse cx="563.5" cy="175.1" rx="4.9" ry="3.3"/>
<path d="M549.4 171.3 L552.7 173 L551.9 177.9 L558.5 181.2 L558.5 186.2 L552.7 189.4 L549.4 192.7"/>
<path d="M524.7 183.7 C525.3 182.9 525.8 180.4 528 179.2 C530.2 178 534.6 176.7 537.9 176.6 C541.2 176.5 545.5 177.3 547.8 178.7 C550.1 180.2 551.4 183.5 551.9 185.3 C552.5 187.1 551.2 188.8 551.1 189.4"/>
<path d="M526.4 187 C527.2 186.3 529.3 184.1 531.3 183.2 C533.4 182.3 536.3 181.5 538.7 181.5 C541.2 181.5 544.4 182.3 546.2 183.2 C547.9 184.1 548.9 186.3 549.4 187" class="t"/>
<path d="M528.8 190.3 C529.5 189.7 531.3 187.7 533 187 C534.6 186.2 536.8 185.8 538.7 185.8 C540.7 185.8 543 186.2 544.5 187 C546 187.7 547.3 189.7 547.8 190.3" class="t"/>
<path d="M524.7 178.7 C524 178.9 520.6 178.7 520.6 179.6 C520.6 180.4 524.3 182.3 524.7 183.7 C525.1 185.1 522.5 186.3 523.1 187.8 C523.6 189.3 525.5 191.6 528 192.7 C530.5 193.8 536.3 194.1 537.9 194.4"/>
<ellipse cx="545.3" cy="194.4" rx="4.6" ry="3"/>
<path d="M538.7 192.7 C539.1 193.6 541.1 196.5 541.2 197.7 C541.3 198.9 540.7 199.3 539.6 200.2 C538.5 201 537.9 201.8 534.6 202.6 C531.3 203.5 523.9 204.6 519.8 205.1 C515.7 205.7 513.2 205.2 509.9 205.9 C506.6 206.6 501.6 208.7 500 209.2"/>
<path d="M622 136.7 L622 156.5 L579.1 180.4" class="t"/>
<path d="M577.5 181.2 L544.5 201" class="t"/>
<path d="M544.5 201L544.5 220.8" class="cl"/>
<path d="M578.3 170L671.9 219"/>
<path d="M565.9 190.3 C568.4 189.9 576.4 188.1 580.8 187.8 C585.2 187.5 589 188.6 592.3 188.6 C595.6 188.6 598.1 187.4 600.5 187.8 C603 188.2 606.3 190 607.1 191.1 C608 192.2 606.9 193.4 605.5 194.4 C604.1 195.4 600.5 195.5 598.9 196.9 C597.2 198.2 597.2 201.1 595.6 202.6 C594 204.1 590.9 204.6 589 205.9 C587.1 207.3 585.7 209.8 584.1 210.9 C582.4 212 579.9 212.2 579.1 212.5"/>
<path d="M567.6 192.7 C569.8 192.3 576.6 190.5 580.8 190.3 C584.9 190 589.3 191 592.3 191.1 C595.3 191.2 597.8 191.1 598.9 191.1" class="t"/>
<ellipse cx="592.3" cy="184.5" rx="3" ry="1.8"/>
<ellipse cx="608" cy="199.3" rx="5.3" ry="3.3"/>
<ellipse cx="601.4" cy="212.5" rx="11.9" ry="8.2"/>
<ellipse cx="598.9" cy="230.7" rx="4.9" ry="3"/>
<path d="M614.6 205.9 L621.1 200.2 L623.6 201.8 L622.8 212.5 L618.7 222.4 L613.7 229.8 L610.4 227.4 L605.5 224.9 L613.7 220.8 L617.9 212.5 L617.9 208.4Z"/>
<path d="M613.7 220.8 L613.7 229.8" class="t"/>
<path d="M621.1 201.8 L620.3 212.5 L616.2 221.6" class="t"/>
<path d="M582.4 219.1 L602.2 229.8 L636.8 248.8" class="t"/>
<path d="M582.4 219.9L582.4 238.9" class="cl"/>
<path d="M642.6 179.6L622.8 190.3" class="t"/>
<path d="M617.7 311.2 C617.8 309.8 616.3 309.4 620.2 307.1 C624 304.8 635.4 298.7 640.8 297.2 C646.1 295.7 649.4 297.2 652.3 298 C655.2 298.8 657.1 300.9 658.1 302.1 C659 303.4 661.8 303.1 658.1 305.4 C654.4 307.8 641.2 314.1 635.8 316.2 C630.5 318.2 628.7 317.9 625.9 317.8 C623.2 317.7 620.7 316.4 619.3 315.3 C618 314.2 617.6 312.6 617.7 311.2Z"/>
<path d="M622.6 308.7 C625.8 307.2 636.8 301 641.6 299.7 C646.4 298.3 649.1 299.8 651.5 300.5 C653.8 301.2 654.9 303.2 655.6 303.8" class="t"/>
<path d="M649 290.6 L658.9 296.4 L662.2 302.1 L662.2 309.6 L401.4 460.5 L393.2 463.3 L385 462.2"/>
<path d="M660 306 L403 457.4 L393.5 460.5" class="t"/>
<path d="M277.4 366.7 L277.4 373.6 L281.2 378.2 L330.9 402.5 L387.8 434.3"/>
<path d="M290.5 365.1L290.5 382.4"/>
<path d="M300.4 368.4L300.4 387"/>
<path d="M325.2 370 L326 374.9 L328.5 379.9 L329.3 386.5 L330.9 402.5"/>
<path d="M330.9 363.4 L333.4 389.8 L337.5 394.7 L344.1 401.3 L354 405.4 L355.3 410.4 L380.4 422.7"/>
<ellipse cx="337.5" cy="400.2" rx="2.3" ry="3.3" transform="rotate(-25 337.5 400.2)"/>
<ellipse cx="349.9" cy="407.6" rx="2.3" ry="3.3" transform="rotate(-25 349.9 407.6)"/>
<ellipse cx="380.9" cy="385.7" rx="2.3" ry="3.3" transform="rotate(-25 380.9 385.7)"/>
<ellipse cx="381.2" cy="422.7" rx="2.3" ry="3.3" transform="rotate(-25 381.2 422.7)"/>
<ellipse cx="337.5" cy="400.2" rx="1.2" ry="1.8" transform="rotate(-25 337.5 400.2)" class="t"/>
<ellipse cx="349.9" cy="407.6" rx="1.2" ry="1.8" transform="rotate(-25 349.9 407.6)" class="t"/>
<ellipse cx="380.9" cy="385.7" rx="1.2" ry="1.8" transform="rotate(-25 380.9 385.7)" class="t"/>
<ellipse cx="381.2" cy="422.7" rx="1.2" ry="1.8" transform="rotate(-25 381.2 422.7)" class="t"/>
<path d="M344.1 379.9 C346.9 379.6 357 377.4 360.6 378.2 C364.2 379.1 365.3 382.1 365.5 384.8 C365.8 387.6 364.7 392.3 362.2 394.7 C359.8 397.2 352.6 398.8 350.7 399.7" class="da"/>
<path d="M373.8 388.1 L360.6 396.4 L362.2 405.4 L357.3 409.6 L373.8 419.4 L380.4 414.5 L380.4 393.1" class="t"/>
<path d="M365.5 392.3 L380.4 399.7" class="t"/>
<path d="M362.2 405.4 L380.4 414.5" class="t"/>
<path d="M335.9 365.1 L338.3 383.2 L342.5 393.1" class="t"/>
<path d="M342.5 365.1 L344.1 381.5" class="t"/>
<path d="M387.8 434.3 L387.8 407.9 L395.2 408.7 L401.8 405.4 L401.8 429.3 L387.8 434.3"/>
<path d="M395.2 408.7L395.2 431.3"/>
<ellipse cx="405.1" cy="420.3" rx="2.3" ry="3" transform="rotate(-25 405.1 420.3)"/>
<path d="M411.7 403L411.7 419.4"/>
<path d="M377.1 370 L391.9 374.9 L393.6 381.5 L391.1 384 L395.2 386.5 L415 377.4"/>
<path d="M401.8 429.3 L415 423.6"/>
<path d="M300.4 386.5 L293.8 386.5 L284.8 391.4 L280.7 397.2 L280.7 403 L284.8 407.9 L378.7 459.8 L387 463.1 L396.9 463.1"/>
<path d="M281.5 404.9 L286.4 410.4 L380.4 462.3 L388.6 464.9 L396.9 464.6" class="t"/>
<path d="M315.3 397.2 C314.9 397.6 314.6 399.1 312.8 399.7 C311 400.2 306.9 401 304.6 400.5 C302.2 399.9 299.5 397.9 298.8 396.4 C298.1 394.9 300.2 392.3 300.4 391.4"/>
<ellipse cx="309" cy="409.9" rx="5.8" ry="3.6"/>
<ellipse cx="309" cy="410.2" rx="4" ry="2" class="t"/>
<ellipse cx="319.9" cy="414.8" rx="3.6" ry="2.1"/>
<ellipse cx="343.3" cy="428" rx="3.6" ry="2.1"/>
<ellipse cx="343.3" cy="428" rx="2" ry="1" class="t"/>
<ellipse cx="354" cy="433.5" rx="5.8" ry="3.6"/>
<ellipse cx="378.4" cy="435.9" rx="6.9" ry="4.3"/>
<ellipse cx="378.7" cy="447.5" rx="5.8" ry="3.6"/>
<ellipse cx="378.7" cy="447.8" rx="4" ry="2.1" class="t"/>
<path d="M325.2 403.8 C325.7 405 326.7 408.7 328.5 411.2 C330.2 413.7 332.7 416.7 335.9 418.6 C339 420.5 342.9 421.8 347.4 422.7 C351.9 423.7 360.5 424.1 363.1 424.4"/>
<path d="M386.1 445 L390.3 441.7 L405.1 435.9 L416.6 435.1 L423.2 437.6 L427.4 442.5 L425.7 446.6 L400.2 458.2 L390.3 455.7 L383.7 454.1 L387.8 449.9Z"/>
<path d="M390.3 445 C393 443.9 402.4 439.6 406.8 438.4 C411.1 437.2 414 437.5 416.6 437.9 C419.2 438.3 421.4 440.4 422.4 440.9" class="t"/>
<path d="M249.6 392 L279.6 397.3" class="da"/>
<path d="M274.9 444.5 L284.8 440.1 L288.9 440.9 L289.7 444.2 L288.1 446.6 L279 451.6 L274.9 450.8 L273.6 447.8Z"/>
<ellipse cx="277.9" cy="447.8" rx="3.6" ry="3.3"/>
<ellipse cx="278.2" cy="447.8" rx="1.6" ry="1.5" class="k"/>
<path d="M280.7 442.5 C281 442.9 282.5 444 282.6 445 C282.8 446 281.7 448.2 281.5 448.8" class="t"/>
<path d="M283.1 442.5 C283.5 442.9 285 444 285.1 445 C285.2 446 284.1 448.2 284 448.8" class="t"/>
<path d="M285.6 442.5 C285.9 442.9 287.4 444 287.6 445 C287.7 446 286.6 448.2 286.4 448.8" class="t"/>
<path d="M249.6 431.6L274.8 443.6" class="t"/>
<path d="M289.7 441.2L349.9 407.6" class="t"/>
<path d="M486.3 362.9 C486.1 362.3 485.6 358.7 485.2 359.4 C484.7 360.2 484.5 364.9 483.5 367.7 C482.6 370.4 482.6 372.2 479.4 375.9 C476.2 379.6 467 387.6 464.6 389.9"/>
<path d="M464.6 389.9L489.3 376.8"/>
<path d="M464.1 390.5 L459.1 395.4 L452.5 400.4 L447.6 401.2 L445.1 399.6 L436.9 403.7 L435.2 407.8 L435.2 411.1 L424.5 416.9 L421.2 416 L415.4 418.5 L413.8 422.6 L401.4 430.1"/>
<path d="M413 419.3 L413 399.6 L421.2 395.4 L422.5 415.7"/>
<path d="M417.6 407.8L417.6 414.4" class="da"/>
<ellipse cx="428.6" cy="408.6" rx="2.8" ry="3.3" transform="rotate(-25 428.6 408.6)"/>
<path d="M426.2 407L431.1 410.3" class="t"/>
<path d="M429.4 406.2L427.8 411.1" class="t"/>
<path d="M451.7 392.1L451.7 399.6"/>
<path d="M443.5 384.7 L447.6 388.8 L454.2 390.5 L455 395.4 L460.8 393.8"/>
<path d="M387.4 409.4 C388.1 409.7 390 411.5 391.5 411.1 C393 410.7 394.8 407.8 396.5 407 C398.1 406.2 400.6 406.3 401.4 406.2"/>
<path d="M421.2 425.1 C421.9 424.1 417.1 425.7 424.5 421.8 C431.9 418 457.2 405.1 465.7 402 C474.2 399 473.4 402.6 475.6 403.7 C477.8 404.8 478.9 407.1 478.9 408.6 C478.9 410.1 483 408.8 475.6 412.7 C468.2 416.7 443 429.4 434.4 432.5 C425.7 435.7 426 432.5 423.7 431.7 C421.3 430.9 420.8 428.7 420.4 427.6 C420 426.5 420.5 426.1 421.2 425.1Z"/>
<path d="M426.2 423.5 C432.9 420.3 458.4 407.4 466.5 404.5 C474.6 401.6 473.1 405.3 474.8 406.2 C476.4 407 476.1 408.9 476.4 409.4" class="t"/>
<path d="M427 376 L525.1 432.4 L614.5 381.6 L617.8 381.6 L645.8 396.5" class="t"/>
<path d="M422 402.8L491.6 446" class="t"/>
<path d="M429.2 428L479.6 462.8" class="t"/>
<path d="M520.4 461.6 L600 483 L675 503.6" class="t"/>
<path d="M494 470 L600 507.2 L680 533.5" class="t"/>
<path d="M492.8 444.3 L519.2 457.3 L521.1 461.6 L518.7 464.5 L515.6 464.5 L490.8 450.8 L490.4 446.7Z"/>
<path d="M495.4 445.7 C495.6 446.2 496.9 447.6 496.6 448.6 C496.3 449.7 494.2 451.4 493.7 452" class="t"/>
<path d="M498.8 447.4 C499 447.9 500.2 449.3 500 450.3 C499.7 451.3 497.6 453.1 497.1 453.7" class="t"/>
<path d="M502.1 449.1 C502.3 449.6 503.6 450.9 503.3 452 C503 453 500.9 454.8 500.4 455.3" class="t"/>
<path d="M507.9 452 C508.1 452.5 509.4 453.8 509.1 454.9 C508.8 455.9 506.7 457.7 506.2 458.2" class="t"/>
<path d="M511.5 453.8 C511.7 454.3 513 455.6 512.7 456.7 C512.4 457.7 510.3 459.5 509.8 460" class="t"/>
<path d="M515.1 455.6 C515.3 456.1 516.6 457.4 516.3 458.5 C516 459.5 513.9 461.3 513.4 461.8" class="t"/>
<path d="M480.8 461.1 L485.6 460.4 L494.7 465.2 L494.7 470 L491.6 473.6 L486.8 472.4 L479.6 467.6 L478.8 464Z"/>
<path d="M483.4 462.2 C483.6 462.7 485.1 463.8 484.8 465.1 C484.6 466.3 482.4 469.1 482 469.9" class="t"/>
<path d="M485.8 463.4 C486 463.9 487.5 465 487.2 466.3 C487 467.5 484.8 470.3 484.4 471.1" class="t"/>
<path d="M488.2 464.6 C488.4 465.1 489.9 466.2 489.6 467.5 C489.4 468.7 487.2 471.5 486.8 472.3" class="t"/>
<ellipse cx="490.8" cy="469.3" rx="2.9" ry="3.4" class="k"/>
<ellipse cx="361.5" cy="538.5" rx="38.3" ry="22.1" class="ph"/>
<ellipse cx="428.5" cy="500.8" rx="38.3" ry="22.1" class="ph"/>
<ellipse cx="494" cy="463.5" rx="38.3" ry="22.1" class="ph"/>
<ellipse cx="559" cy="426" rx="38.3" ry="22.1" class="ph"/>
<path d="M201.5 496.8 L260 459.7 L265.8 462.1" class="ph"/>
<path d="M270.7 461.3 L298.7 449 L307 451.4 L350.7 477 L356.4 477 L378.7 466.3" class="ph"/>
<path d="M201.5 496.8 L197.4 505.8 L197.4 545.4" class="ph"/>
<path d="M196.8 503L397.9 611.2" class="ph"/>
<path d="M237.7 493.5 L241.9 491.8 L250.9 493.5 L298.7 464.6 L308.6 463.8 L310.3 468.7 L323.5 482.7 L321.8 485.2 L269.1 516.5 L257.5 515.7 L246 510.8 L239.4 509.1 L239.4 500.9 L237.7 495.9Z" class="ph"/>
<path d="M240.2 497.6 L250.9 499.2 L294.6 473.7" class="t"/>
<path d="M307.8 469.6 L321.8 482.7" class="t"/>
<path d="M311.9 467.1 L324.3 479.4" class="t"/>
<ellipse cx="297.9" cy="457.2" rx="4.9" ry="3" class="t"/>
<path d="M295.4 457.5 L300.4 457.5" class="t"/>
<ellipse cx="280.3" cy="466.6" rx="4.9" ry="3" class="t"/>
<path d="M277.8 466.9 L282.8 466.9" class="t"/>
<ellipse cx="227.5" cy="497.6" rx="4.9" ry="3" class="t"/>
<path d="M225 497.9 L230 497.9" class="t"/>
<ellipse cx="288" cy="513.7" rx="4.9" ry="3" class="t"/>
<path d="M285.5 514 L290.5 514" class="t"/>
<ellipse cx="319.8" cy="513.7" rx="4.9" ry="3" class="t"/>
<path d="M317.3 514 L322.3 514" class="t"/>
<ellipse cx="269.9" cy="523.1" rx="4.9" ry="3" class="t"/>
<path d="M267.4 523.4 L272.4 523.4" class="t"/>
<ellipse cx="246.8" cy="486.9" rx="3" ry="1.8" class="t"/>
<ellipse cx="321" cy="492.3" rx="2.6" ry="1.5" class="t"/>
<path d="M297.9 530.5 C298.5 528.8 304.1 524.8 307 524 C309.9 523.1 314.4 524.2 315.2 525.6 C316 527 313.8 530.7 311.9 532.2 C310 533.7 306 534.9 303.7 534.7 C301.3 534.4 297.4 532.3 297.9 530.5Z" class="t"/>
<ellipse cx="203.5" cy="511.9" rx="2" ry="3.3" transform="rotate(-25 203.5 511.9)" class="t"/>
<ellipse cx="203.5" cy="534.7" rx="2" ry="3.3" transform="rotate(-25 203.5 534.7)" class="t"/>
<path d="M209.7 522.3 L209.7 515.7 L214.7 514.1 L232.8 524.8 L234.4 528.9" class="ph"/>
<ellipse cx="338.7" cy="480.9" rx="4.9" ry="3" class="t"/>
<path d="M336.2 481.2 L341.2 481.2" class="t"/>
<ellipse cx="387.4" cy="474.9" rx="4.9" ry="3" class="t"/>
<path d="M384.9 475.2 L389.9 475.2" class="t"/>
<ellipse cx="440.6" cy="470" rx="4.9" ry="3" class="t"/>
<path d="M438.1 470.3 L443.1 470.3" class="t"/>
<ellipse cx="373.3" cy="508.4" rx="4.9" ry="3" class="t"/>
<path d="M370.8 508.7 L375.8 508.7" class="t"/>
<ellipse cx="319.8" cy="513.7" rx="4.9" ry="3" class="t"/>
<path d="M317.3 514 L322.3 514" class="t"/>
<ellipse cx="416.2" cy="533.5" rx="4.9" ry="3" class="t"/>
<path d="M413.7 533.8 L418.7 533.8" class="t"/>
<ellipse cx="308.6" cy="545" rx="4.9" ry="3" class="t"/>
<path d="M306.1 545.3 L311.1 545.3" class="t"/>
<ellipse cx="321.1" cy="492.4" rx="2.5" ry="1.5" class="t"/>
<ellipse cx="381.9" cy="515" rx="3" ry="2" class="t"/>
<ellipse cx="403.8" cy="526.5" rx="3" ry="1.8" class="t"/>
<path d="M365.1 489.4 C365.7 487.7 369.6 485.3 372.5 484.5 C375.4 483.7 380.9 483.4 382.4 484.5 C383.9 485.6 382.4 489.3 381.6 491.1 C380.8 492.9 379.5 494.5 377.5 495.2 C375.4 495.9 371.3 496.2 369.2 495.2 C367.2 494.3 364.6 491.2 365.1 489.4Z" class="t"/>
<path d="M337.1 506.8 C337.9 505.5 341.1 502.1 343.7 501 C346.3 499.9 350.1 499.5 352.7 500.2 C355.4 500.8 359.9 504.1 359.3 505.1 C358.8 506.1 352.9 505.4 349.4 505.9 C346 506.5 340.8 508.3 338.7 508.4 C336.7 508.5 336.3 508 337.1 506.8Z" class="t"/>
<path d="M428.6 456.5 C430.2 456.9 435.7 459.4 438.5 459 C441.2 458.5 443.8 455.8 445 454 C446.3 452.2 445.7 449.2 445.9 448.2" class="ph"/>
<path d="M407.1 468.8 L425.3 466.4 L421.1 461.4" class="ph"/>
<path d="M197.4 503.5 L197.4 546.4" class="ph"/>
<path d="M196.5 557.9 L198.2 574.4 L200.7 600.8 L201.5 612.3 L204.8 623.8 L209.7 629.6 L237.7 645.6" class="ph"/>
<path d="M257 646L262 646" class="t"/>
<path d="M209.7 513.4 L209.7 535.7 L213.8 540.6 L227.9 547.2 L235.3 544.7 L235.3 535.7" class="ph"/>
<path d="M217.1 531.5 L224.6 538.1 L232.8 541.4" class="t"/>
<ellipse cx="203.5" cy="535.7" rx="2.2" ry="3.6" transform="rotate(-25 203.5 535.7)" class="t"/>
<ellipse cx="233.1" cy="553.8" rx="2.2" ry="3.6" transform="rotate(-25 233.1 553.8)" class="t"/>
<ellipse cx="267.4" cy="546" rx="2.2" ry="3.6" transform="rotate(-25 267.4 546)" class="t"/>
<ellipse cx="210.1" cy="593.3" rx="2.2" ry="3.6" transform="rotate(-25 210.1 593.3)" class="t"/>
<ellipse cx="262" cy="586.8" rx="2.2" ry="3.6" transform="rotate(-25 262 586.8)" class="t"/>
<ellipse cx="280.1" cy="597.8" rx="2.2" ry="3.6" transform="rotate(-25 280.1 597.8)" class="t"/>
<ellipse cx="208.9" cy="620.5" rx="2.2" ry="3.6" transform="rotate(-25 208.9 620.5)" class="t"/>
<ellipse cx="226.5" cy="621.9" rx="2.2" ry="3.6" transform="rotate(-25 226.5 621.9)" class="t"/>
<ellipse cx="279.8" cy="630.4" rx="2.2" ry="3.6" transform="rotate(-25 279.8 630.4)" class="t"/>
<ellipse cx="296.3" cy="630.4" rx="2.2" ry="3.6" transform="rotate(-25 296.3 630.4)" class="t"/>
<ellipse cx="238.6" cy="590.9" rx="14.5" ry="21.5" transform="rotate(-25 238.6 590.9)" class="ph"/>
<path d="M232 571.1 C232.1 573.3 231.6 579.9 232.8 584.3 C234 588.7 236.1 593.9 239.4 597.5 C242.7 601 250.4 604.3 252.6 605.7" class="ph"/>
<ellipse cx="280.9" cy="576.9" rx="9.5" ry="14.5" transform="rotate(-25 280.9 576.9)" class="ph"/>
<path d="M275.7 563.7 C275.8 565.2 275.4 569.7 276.5 572.7 C277.6 575.8 279.9 579.5 282.2 581.8 C284.6 584.1 289.1 585.9 290.5 586.8" class="ph"/>
<clipPath id="botc"><rect x="0" y="0" width="919" height="647"/></clipPath>
<g clip-path="url(#botc)">
<ellipse cx="320.2" cy="620.5" rx="14.5" ry="21.5" transform="rotate(-25 320.2 620.5)" class="ph"/>
</g>
<ellipse cx="351.4" cy="570.9" rx="4.9" ry="3" class="t"/>
<path d="M348.9 571.2 L353.9 571.2" class="t"/>
<ellipse cx="415.7" cy="533.6" rx="4.9" ry="3" class="t"/>
<path d="M413.2 533.9 L418.2 533.9" class="t"/>
<ellipse cx="405.5" cy="566.3" rx="4.9" ry="3" class="t"/>
<path d="M403 566.6 L408 566.6" class="t"/>
<ellipse cx="374.2" cy="585.2" rx="4.9" ry="3" class="t"/>
<path d="M371.7 585.5 L376.7 585.5" class="t"/>
<ellipse cx="375.8" cy="573.2" rx="8.6" ry="5.3" class="ph"/>
<ellipse cx="418.2" cy="548.1" rx="8.6" ry="5.3" class="ph"/>
<ellipse cx="442.1" cy="533.3" rx="8.6" ry="4.9" class="ph"/>
<ellipse cx="404.2" cy="580.3" rx="11.9" ry="6.9" class="ph"/>
<ellipse cx="428.6" cy="566.3" rx="12.4" ry="6.9" class="ph"/>
<ellipse cx="471.8" cy="536.6" rx="12.4" ry="6.9" class="ph"/>
<path d="M380.3 591.8 L388.5 587.7 L398.4 591.8 L391 596.8Z" class="t"/>
<path d="M434.7 550.6 L445.4 544 L461.9 551.4 L458.6 557.2 L450.3 560.5 L438.8 556.4Z" class="ph"/>
<path d="M442.1 554.7 L450.3 550.6 L458.6 556.4" class="t"/>
<ellipse cx="347.8" cy="594.8" rx="2.2" ry="3.6" transform="rotate(-25 347.8 594.8)" class="t"/>
<path d="M405 595.9 L478.3 553.9" class="ph"/>
<path d="M410.8 600.1 L480 560.5" class="ph"/>
<path d="M397.6 611.6 L398.4 619.8 L422.3 635.5 L438.8 627.2"/>
<path d="M397.6 611.6 L415.7 602.5 L415.7 611.6 L398.4 619.8"/>
<path d="M415.7 611.6 L422.3 597.6 L428.9 590.2 L433.8 587.7" class="t"/>
<path d="M425.6 591 L435.5 628.9" class="ph"/>
<path d="M428.9 590.2 L439.6 627.2" class="ph"/>
<path d="M433.8 587.7 L443.7 624" class="ph"/>
<path d="M412.4 619 L420.7 614.9 L420.7 624Z" class="t"/>
<path d="M439.6 628.9 L424.8 637.1" class="t"/>
<path d="M443.7 622.3 L480 600.9" class="ph"/>
<path d="M445.4 625.6 L480 605.8" class="ph"/>
<path d="M435.5 599.2 C436.9 598.4 441.8 596.8 443.7 594.3 C445.7 591.8 446.8 586.9 447 584.4 C447.3 581.9 445.7 580.3 445.4 579.4" class="ph"/>
<path d="M448.7 578.6 L448.7 584.4 L470.1 575.3 L470.1 565.4 L480 561.3" class="ph"/>
<path d="M452.8 577L452.8 581.9" class="t"/>
<path d="M447 628.9 L447.9 645.4" class="ph"/>
<path d="M454.4 645.4 L453.6 632.2 L470.1 625.6 L473.4 622.3 L480 619" class="ph"/>
<path d="M471.8 627.2 L472.6 645.4" class="ph"/>
<path d="M402.5 638.8 C403.1 638.2 404.7 635.8 405.8 635.5 C406.9 635.2 408.6 636.9 409.1 637.1" class="t"/>
<ellipse cx="505.3" cy="431.9" rx="4.9" ry="3" class="t"/>
<path d="M502.8 432.2 L507.8 432.2" class="t"/>
<ellipse cx="548.5" cy="457.1" rx="4.9" ry="3" class="t"/>
<path d="M546 457.4 L551 457.4" class="t"/>
<ellipse cx="602.6" cy="446.4" rx="4.9" ry="3" class="t"/>
<path d="M600.1 446.7 L605.1 446.7" class="t"/>
<ellipse cx="539.9" cy="485.4" rx="4.9" ry="3" class="t"/>
<path d="M537.4 485.7 L542.4 485.7" class="t"/>
<ellipse cx="483.1" cy="494.7" rx="4.9" ry="3" class="t"/>
<path d="M480.6 495 L485.6 495" class="t"/>
<ellipse cx="472.4" cy="523.8" rx="4.9" ry="3" class="t"/>
<path d="M469.9 524.1 L474.9 524.1" class="t"/>
<ellipse cx="515.2" cy="438.1" rx="2" ry="1.2" class="t"/>
<ellipse cx="536.6" cy="450.5" rx="2.3" ry="1.3" class="t"/>
<ellipse cx="471.9" cy="487.6" rx="2.6" ry="1.6" class="t"/>
<ellipse cx="572.9" cy="454.3" rx="9.1" ry="5.3" class="ph"/>
<ellipse cx="552.3" cy="467.8" rx="8.6" ry="4.9" class="ph"/>
<ellipse cx="562.2" cy="484.3" rx="12.4" ry="6.9" class="ph"/>
<ellipse cx="538.3" cy="498.3" rx="12.4" ry="6.9" class="ph"/>
<ellipse cx="505.8" cy="492.5" rx="8.6" ry="4.9" class="ph"/>
<ellipse cx="485.5" cy="506.5" rx="8.6" ry="4.9" class="ph"/>
<ellipse cx="495.4" cy="523" rx="12.4" ry="6.9" class="ph"/>
<ellipse cx="603.4" cy="460.4" rx="14" ry="7.4" class="ph"/>
<path d="M500.4 509.8 L511.1 503.2 L519.3 504.1 L527.6 509.8 L525.9 514.8 L516 518.9 L507.8 516.4Z" class="ph"/>
<path d="M507.8 514.8 L516 510.7 L523.5 514.8" class="t"/>
<path d="M568.8 469.4 L578.7 464.5 L591.9 469.4 L593.5 474.4 L583.6 479.3 L573.7 476Z" class="ph"/>
<path d="M575.4 475.2 L582 471.9 L590.2 476" class="t"/>
<path d="M560 378 L592.3 394.8" class="t"/>
<path d="M592.3 394.8 L678.8 445.9" class="ph"/>
<path d="M678.8 445.9 L665.6 453.3 L665.6 462.4 L672.2 468.2 L672.2 478.9 L685.4 471.5 L686.2 459.9 L678.8 456.1 L665.6 462.4" class="ph"/>
<path d="M672.2 468.2 L686.2 459.9" class="ph"/>
<path d="M655.7 449.2 L608.7 475.6" class="ph"/>
<path d="M659.8 452.5 L614.5 478.9" class="ph"/>
<ellipse cx="614.2" cy="419.6" rx="4.9" ry="3" class="t"/>
<path d="M611.7 419.9 L616.7 419.9" class="t"/>
<ellipse cx="571.6" cy="394.8" rx="4.9" ry="3" class="t"/>
<path d="M569.1 395.1 L574.1 395.1" class="t"/>
<ellipse cx="626" cy="421.5" rx="2.5" ry="1.5" class="t"/>
<ellipse cx="614.8" cy="430.3" rx="8.6" ry="4.9" class="ph"/>
<ellipse cx="625.2" cy="446.8" rx="11.9" ry="6.9" class="ph"/>
<path d="M631 434.4 L639.2 430.3 L649.1 434.4 L652.4 440.2 L644.2 443.5 L635.9 441Z" class="ph"/>
<path d="M635.1 438.5 L642.5 436 L650.8 441" class="t"/>
<path d="M608.7 475.6 L614.5 478.9 L616.2 492.1" class="ph"/>
<path d="M639.2 462.4 L642.5 460.8 L655.7 450.9 L665.6 453.3" class="ph"/>
<path d="M642.5 460.8 L649.1 472.3 L652.4 492.1" class="ph"/>
<path d="M650.8 457.5 L659 485.5" class="ph"/>
<path d="M645.8 459.1 L652.4 478.9" class="ph"/>
<path d="M654.1 456.6 L662.3 483.8" class="ph"/>
<path d="M629.3 470.7 C629.9 472.6 630.7 481.4 632.6 482.2 C634.6 483 639.2 478.6 640.9 475.6 C642.5 472.6 642.2 466 642.5 464.1" class="ph"/>
<path d="M619.4 477.2 L624.4 492.1" class="ph"/>
<path d="M665.6 485.5 L675.5 478.9 L675.5 492.1" class="ph"/>
<g clip-path="url(#botc)">
<path d="M470 556.4 L522.7 531.6" class="ph"/>
<path d="M471.6 561.3 L511.2 539.9 L514.5 544 L522.7 542.4 L527.7 537.4 L535.9 540.7 L545.8 535.8" class="ph"/>
<path d="M494.7 561.3 C496.6 560.5 503.8 558.6 506.3 556.4 C508.7 554.2 509 549.5 509.6 548.1" class="ph"/>
<path d="M470 576.2 C471.6 575.9 477.4 576.2 479.9 574.5 C482.4 572.9 484 567.6 484.8 566.3" class="ph"/>
<path d="M486.5 557.2 L496.4 591 L496.4 595.9" class="ph"/>
<path d="M492.3 551.4 L503 587.7 L507.9 591" class="ph"/>
<path d="M507.9 591 L564.8 562.1" class="ph"/>
<path d="M509.6 584.4 L562.3 556.4" class="ph"/>
<path d="M519.4 584.4 L568.9 560.5" class="ph"/>
<path d="M564 549.8 L568.9 549.8 L568.9 571.2 L564 576.2 L557.4 577.8 L545.8 584.4" class="ph"/>
<path d="M564.8 562.1 L564.8 572.9 L561.5 576.2" class="t"/>
<path d="M568.9 564.6 L583.7 558 L584.6 561.3" class="t"/>
<path d="M470 605.8 L494.7 595.9 L498 602.5 L496.4 612.4 L489.8 616.5 L470 625.6" class="ph"/>
<path d="M470 610.8 L493.1 601.7 L494.7 610.8 L488.1 614.9" class="ph"/>
<path d="M505.4 595.9 L533.5 587.7" class="ph"/>
<path d="M503 607.5 L516.2 600.9" class="ph"/>
<path d="M505.4 595.9 L503 607.5 L499.7 614.1" class="t"/>
<path d="M517.8 595.9 L517.8 648.7" class="ph"/>
<path d="M535.9 591 L535.9 648.7" class="ph"/>
<path d="M601.9 549.8 L601.9 606.6 L584.6 616.5 L566.4 577" class="ph"/>
<path d="M535.9 600.9 L562.3 648.7" class="ph"/>
<path d="M540.9 599.2 L572.2 648.7" class="ph"/>
<path d="M535.9 607.5 L555.7 648.7" class="ph"/>
<path d="M535.9 590.2 C537.9 589.5 545.1 587.1 547.5 586 C549.8 584.9 549.5 584 549.9 583.6" class="ph"/>
<path d="M536.8 597.6 C538 597 542.1 596.2 544.2 594.3 C546.2 592.4 548.3 587.4 549.1 586" class="t"/>
<path d="M601.9 549.8 L615 543.2 L611.8 551.4 L603.5 559.7 L620 579.4" class="ph"/>
<path d="M601.9 567.9 L624.9 605.8" class="ph"/>
<path d="M606.8 564.6 L624.9 591" class="ph"/>
<path d="M577.1 641.4 L634.8 611.3" class="ph"/>
<path d="M588.7 642.4 L636.5 618.5" class="ph"/>
<path d="M557.4 530 L564.8 549" class="ph"/>
<path d="M560.7 529.2 L568.1 548.1" class="ph"/>
<path d="M572.2 546.5 L598.6 534.9" class="ph"/>
<path d="M575.5 550.6 L600.2 539.9" class="ph"/>
<path d="M470 628.9 L479.9 622.3 L486.5 619" class="t"/>
<path d="M471.6 635.5 C472.7 634.4 476 631.6 478.2 628.9 C480.4 626.1 483.7 620.7 484.8 619" class="t"/>
<path d="M499.7 614.1 L509.6 635.5" class="ph"/>
</g>
<g clip-path="url(#botc)">
<ellipse cx="667.4" cy="497" rx="6" ry="6.8" transform="rotate(20 667.4 497)" class="t"/>
<ellipse cx="668" cy="497" rx="3.5" ry="4.2" transform="rotate(20 668 497)" class="t"/>
<ellipse cx="668.2" cy="497" rx="1.5" ry="2" transform="rotate(20 668.2 497)" class="t"/>
<path d="M658 486.7 L672.8 484.8 L676.9 491.6 L676.3 507.8 L651.3 524 L640.5 528 L635.1 534.7" class="ph"/>
<path d="M671.5 464.6 L671.5 484.8" class="ph"/>
<path d="M672.8 499.7 L680.9 503.7" class="t"/>
<path d="M624.3 540.1 L648.6 536.1 L649.9 552.3 L640.5 556.3 L627 560.4 L621.6 553.6 L621.6 544.2" class="ph"/>
<path d="M649.9 541.5 L667.4 588.7 L675.5 596.8 L674.2 604.9 L672.8 626.5 L689 637.3 L689 648" class="ph"/>
<path d="M667.4 588.7 L648.6 599.5 L643.2 604.9" class="ph"/>
<path d="M672.8 604.9 L640.5 607.6 L600 626.5" class="ph"/>
<path d="M600 634.6 L632.4 619.7" class="ph"/>
<path d="M600 532 L627 518.6 L640.5 515.9 L654 505.1" class="ph"/>
<path d="M600 537.4 L629.7 524 L643.2 522.6" class="ph"/>
<path d="M616.2 479.4 L627 515.9" class="ph"/>
<path d="M622.9 476.7 L633.7 513.2" class="ph"/>
<path d="M628.3 474 L640.5 510.5" class="t"/>
<path d="M602.7 550.9 L632.4 615.7 L643.2 648" class="ph"/>
<path d="M613.5 545.5 L640.5 610.3 L648.6 645.3" class="ph"/>
<path d="M621.6 559 L645.9 613" class="ph"/>
<path d="M600 556.3 L602.7 599.5" class="ph"/>
<path d="M632.4 519.9 C632.8 521.3 635.5 525.8 635.1 528 C634.6 530.2 630.6 532.5 629.7 533.4" class="t"/>
<path d="M640.5 502.4 L654 495.6 L655.3 499.7 L643.2 506.4" class="t"/>
<path d="M640.5 470 L645.9 480.8 L651.3 474" class="t"/>
<path d="M658 486.7 L656.6 499.7 L658 510.5" class="t"/>
</g>
<g clip-path="url(#botc)">
<path d="M646.2 629.2 C649.8 628.3 662.9 624.2 668 623.8 C673.1 623.4 673.8 625.4 676.7 627 C679.6 628.6 683.2 631.1 685.4 633.6 C687.6 636.1 689 639.6 689.8 642.3 C690.6 645 690 648.7 690 650" class="ph"/>
<path d="M670 622.5 L681 631" class="t"/>
</g>
<path d="M497 421.8 L506.9 420.2 L508.6 412.7" class="ph"/>
<path d="M472.3 430.9 L478.9 429.2" class="ph"/>
<path d="M485.5 424.3 L488.8 425.9" class="ph"/>
<path d="M429.4 457.2 C431.4 457.4 438.2 459.3 441 458.1 C443.7 456.8 445.1 451.2 445.9 449.8" class="ph"/>
<path d="M408 467.1 L424.5 462.2" class="ph"/>
<ellipse cx="513.5" cy="438.3" rx="1.6" ry="1" class="t"/>
<path d="M497.1 446.6 C497.3 447.1 498.6 448.4 498.3 449.5 C498 450.5 495.9 452.3 495.4 452.8" class="t"/>
<path d="M500.4 448.3 C500.6 448.7 501.9 450.1 501.6 451.1 C501.4 452.2 499.2 453.9 498.8 454.5" class="t"/>
<path d="M504.3 450.2 C504.5 450.7 505.8 452 505.5 453.1 C505.2 454.1 503.1 455.9 502.6 456.4" class="t"/>
<path d="M506.2 451.1 C506.4 451.6 507.7 453 507.4 454 C507.1 455.1 505 456.8 504.5 457.4" class="t"/>
<path d="M509.6 452.8 C509.8 453.3 511 454.7 510.8 455.7 C510.5 456.7 508.4 458.5 507.9 459.1" class="t"/>
<path d="M513.2 454.6 C513.4 455.1 514.6 456.5 514.4 457.5 C514.1 458.5 512 460.3 511.5 460.9" class="t"/>
</svg>
</body></html>
